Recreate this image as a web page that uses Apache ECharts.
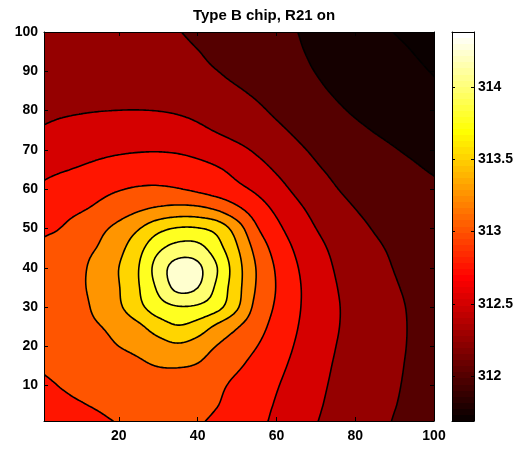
<!DOCTYPE html>
<html>
<head>
<meta charset="utf-8">
<script src="https://cdn.jsdelivr.net/npm/echarts@6/dist/echarts.min.js"></script>
<style>
  html, body { margin: 0; padding: 0; background: #fff; }
  #chart { width: 524px; height: 450px; }
</style>
</head>
<body>
<div id="chart"></div>
<script>
// Sample positions of the temperature field (chip surface coordinates)
const xNodes = [1, 5, 10, 15, 20, 25, 30, 35, 40, 45, 50, 55, 60, 65, 70, 75, 80, 85, 90, 95, 100];
const yNodes = [1, 5, 10, 15, 20, 25, 30, 35, 40, 45, 50, 55, 60, 65, 70, 75, 80, 85, 90, 95, 100];

// Temperature (K) at each sample, one row per y position (bottom to top)
const tempRows = [
  [312.88, 312.91, 312.94, 312.975, 313.01, 313.04, 313.05, 313.045, 313.02, 312.96, 312.87, 312.80, 312.71, 312.61, 312.51, 312.44, 312.375, 312.31, 312.24, 312.19, 312.16],
  [312.92, 312.95, 312.985, 313.02, 313.05, 313.075, 313.085, 313.08, 313.06, 313.005, 312.914, 312.824, 312.7325, 312.6315, 312.5305, 312.453, 312.389, 312.3215, 312.256, 312.205, 312.17],
  [312.97, 313.005, 313.05, 313.09, 313.12, 313.14, 313.145, 313.13, 313.10, 313.04, 312.952, 312.864, 312.765, 312.659, 312.5535, 312.4675, 312.401, 312.335, 312.2695, 312.2125, 312.18],
  [313.02, 313.05, 313.08, 313.12, 313.165, 313.21, 313.255, 313.265, 313.23, 313.12, 313.03, 312.9265, 312.8115, 312.695, 312.582, 312.483, 312.415, 312.348, 312.2805, 312.22, 312.19],
  [313.05, 313.09, 313.14, 313.19, 313.25, 313.31, 313.40, 313.46, 313.39, 313.238, 313.12, 313.0035, 312.8655, 312.732, 312.614, 312.502, 312.429, 312.359, 312.289, 312.2275, 312.1975],
  [313.08, 313.125, 313.17, 313.24, 313.325, 313.45, 313.62, 313.73, 313.64, 313.446, 313.27, 313.0895, 312.921, 312.764, 312.639, 312.519, 312.438, 312.365, 312.291, 312.23, 312.1975],
  [313.10, 313.13, 313.18, 313.321, 313.463, 313.68, 313.89, 313.984, 313.962, 313.824, 313.533, 313.172, 312.969, 312.786, 312.650, 312.523, 312.438, 312.361, 312.2835, 312.2275, 312.1925],
  [313.13, 313.17, 313.215, 313.34, 313.49, 313.735, 314.044, 314.32, 314.255, 313.943, 313.586, 313.229, 312.992, 312.7915, 312.6435, 312.510, 312.4255, 312.345, 312.265, 312.2175, 312.185],
  [313.12, 313.165, 313.21, 313.336, 313.50, 313.745, 314.11, 314.35, 314.30, 314.00, 313.598, 313.235, 312.974, 312.7695, 312.617, 312.486, 312.402, 312.318, 312.243, 312.20, 312.17],
  [313.05, 313.10, 313.18, 313.267, 313.43, 313.667, 313.944, 314.09, 314.08, 313.844, 313.52, 313.163, 312.9085, 312.717, 312.5675, 312.453, 312.366, 312.2825, 312.22, 312.1775, 312.1475],
  [312.96, 313.00, 313.099, 313.195, 313.319, 313.484, 313.673, 313.77, 313.765, 313.659, 313.375, 313.023, 312.809, 312.641, 312.501, 312.402, 312.3125, 312.236, 312.186, 312.1475, 312.1175],
  [312.88, 312.9225, 312.974, 313.0435, 313.129, 313.215, 313.285, 313.3225, 313.3075, 313.215, 313.049, 312.868, 312.703, 312.555, 312.4315, 312.331, 312.25, 312.1875, 312.1425, 312.109, 312.08],
  [312.79, 312.84, 312.89, 312.94, 312.9875, 313.024, 313.035, 313.011, 312.9575, 312.8875, 312.808, 312.7085, 312.584, 312.457, 312.348, 312.2605, 312.1936, 312.1414, 312.099, 312.064, 312.034],
  [312.70, 312.731, 312.7675, 312.809, 312.8475, 312.875, 312.8825, 312.865, 312.8275, 312.771, 312.6885, 312.586, 312.476, 312.369, 312.277, 312.208, 312.154, 312.1045, 312.059, 312.0196, 311.9835],
  [312.61, 312.64, 312.67, 312.6975, 312.719, 312.7325, 312.736, 312.7225, 312.685, 312.6275, 312.5546, 312.4685, 312.3776, 312.291, 312.216, 312.1555, 312.102, 312.052, 312.008, 311.971, 311.937],
  [312.517, 312.5405, 312.564, 312.584, 312.5975, 312.6025, 312.596, 312.576, 312.539, 312.4835, 312.421, 312.359, 312.29, 312.218, 312.152, 312.091, 312.036, 311.991, 311.954, 311.921, 311.89],
  [312.47, 312.48, 312.489, 312.4965, 312.5015, 312.503, 312.4975, 312.481, 312.451, 312.409, 312.354, 312.287, 312.217, 312.151, 312.0875, 312.029, 311.98, 311.941, 311.906, 311.872, 311.8375],
  [312.45, 312.45, 312.449, 312.444, 312.435, 312.424, 312.4075, 312.3825, 312.349, 312.311, 312.269, 312.215, 312.153, 312.0915, 312.033, 311.9824, 311.939, 311.8995, 311.861, 311.823, 311.784],
  [312.43, 312.42, 312.4075, 312.39, 312.37, 312.35, 312.33, 312.309, 312.285, 312.252, 312.206, 312.155, 312.102, 312.047, 311.996, 311.950, 311.907, 311.864, 311.821, 311.780, 311.74],
  [312.42, 312.404, 312.385, 312.365, 312.345, 312.325, 312.305, 312.284, 312.254, 312.212, 312.164, 312.117, 312.069, 312.0205, 311.972, 311.925, 311.879, 311.832, 311.786, 311.7455, 311.711],
  [312.40, 312.385, 312.365, 312.345, 312.325, 312.30, 312.28, 312.256, 312.218, 312.176, 312.133, 312.09, 312.047, 312.004, 311.953, 311.901, 311.85, 311.798, 311.746, 311.715, 311.69]
];

// Contour levels and colour scale limits
const levels = [311.75, 312, 312.25, 312.5, 312.75, 313, 313.25, 313.5, 313.75, 314, 314.25];
const colorRange = [311.69, 314.38];

// Tick labels
const xTicks = [20, 40, 60, 80, 100];
const yTicks = [10, 20, 30, 40, 50, 60, 70, 80, 90, 100];
const barTicks = [312, 312.5, 313, 313.5, 314];

const titleText = 'Type B chip, R21 on';

// ---- "hot" colormap, 64 entries ----
const CMAP_SIZE = 64;
function hotEntry(k) { // k: 1..64
  const n1 = 24, n2 = 24, n3 = 16;
  const r = k <= n1 ? k / n1 : 1;
  const g = k <= n1 ? 0 : (k <= n1 + n2 ? (k - n1) / n2 : 1);
  const b = k <= n1 + n2 ? 0 : (k - n1 - n2) / n3;
  const h = c => Math.round(c * 255);
  return 'rgb(' + h(r) + ',' + h(g) + ',' + h(b) + ')';
}
function hotColor(v) {
  let idx = Math.floor((v - colorRange[0]) / (colorRange[1] - colorRange[0]) * CMAP_SIZE + 1e-9);
  idx = Math.max(0, Math.min(CMAP_SIZE - 1, idx));
  return hotEntry(idx + 1);
}
const bandColors = [];
for (let k = 0; k <= levels.length; k++) {
  bandColors.push(hotColor(k === 0 ? colorRange[0] : levels[k - 1]));
}
function bandOf(v) {
  let k = 0;
  while (k < levels.length && v >= levels[k]) k++;
  return k;
}

// ---- smooth resampling of the sampled field (Catmull-Rom) ----
const SUB = 6;
function catmull(p0, p1, p2, p3, t) {
  const t2 = t * t, t3 = t2 * t;
  return 0.5 * (2 * p1 + (-p0 + p2) * t + (2 * p0 - 5 * p1 + 4 * p2 - p3) * t2 + (-p0 + 3 * p1 - 3 * p2 + p3) * t3);
}
function resample(arr) {
  const m = arr.length;
  const g = k => k < 0 ? 2 * arr[0] - arr[1] : (k > m - 1 ? 2 * arr[m - 1] - arr[m - 2] : arr[k]);
  const out = [];
  for (let i = 0; i < m - 1; i++) {
    for (let s = 0; s < SUB; s++) out.push(catmull(g(i - 1), g(i), g(i + 1), g(i + 2), s / SUB));
  }
  out.push(arr[m - 1]);
  return out;
}
function resampleCoords(nodes) {
  const out = [];
  for (let i = 0; i < nodes.length - 1; i++) {
    for (let s = 0; s < SUB; s++) out.push(nodes[i] + (nodes[i + 1] - nodes[i]) * s / SUB);
  }
  out.push(nodes[nodes.length - 1]);
  return out;
}
const fineX = resampleCoords(xNodes);
const fineY = resampleCoords(yNodes);
const rowsAlongX = tempRows.map(resample);
const fineField = []; // fineField[j][i]
for (let j = 0; j < fineY.length; j++) fineField.push(new Array(fineX.length));
for (let i = 0; i < fineX.length; i++) {
  const col = resample(rowsAlongX.map(r => r[i]));
  for (let j = 0; j < fineY.length; j++) fineField[j][i] = col[j];
}

// ---- polygon clipping against a level ----
function clipPoly(poly, t, keepAbove) {
  const out = [];
  const n = poly.length;
  for (let i = 0; i < n; i++) {
    const A = poly[i], B = poly[(i + 1) % n];
    const ina = keepAbove ? A.v >= t : A.v < t;
    const inb = keepAbove ? B.v >= t : B.v < t;
    if (ina) out.push(A);
    if (ina !== inb) {
      const r = (t - A.v) / (B.v - A.v);
      out.push({ x: A.x + (B.x - A.x) * r, y: A.y + (B.y - A.y) * r, v: t });
    }
  }
  return out;
}
const f2 = n => n.toFixed(2);
function polyPath(poly) {
  let s = 'M' + f2(poly[0].x) + ' ' + f2(poly[0].y);
  for (let i = 1; i < poly.length; i++) s += 'L' + f2(poly[i].x) + ' ' + f2(poly[i].y);
  return s + 'Z';
}

function buildContour(api) {
  const px = fineX.map(x => api.coord([x, yNodes[0]])[0]);
  const py = fineY.map(y => api.coord([xNodes[0], y])[1]);
  const fills = bandColors.map(() => []);
  const lines = [];
  const NX = fineX.length, NY = fineY.length;

  function doTriangle(tri) {
    let vmin = Infinity, vmax = -Infinity;
    tri.forEach(p => { vmin = Math.min(vmin, p.v); vmax = Math.max(vmax, p.v); });
    const k0 = bandOf(vmin), k1 = bandOf(vmax);
    for (let k = k0; k <= k1; k++) {
      let poly = tri;
      if (k > 0) poly = clipPoly(poly, levels[k - 1], true);
      if (poly.length >= 3 && k < levels.length) poly = clipPoly(poly, levels[k], false);
      if (poly.length >= 3) fills[k].push(polyPath(poly));
    }
    // iso-lines through this triangle
    for (let k = k0; k < k1; k++) {
      const L = levels[k];
      const pts = [];
      for (let e = 0; e < 3; e++) {
        const A = tri[e], B = tri[(e + 1) % 3];
        if ((A.v >= L) !== (B.v >= L)) {
          const r = (L - A.v) / (B.v - A.v);
          pts.push([A.x + (B.x - A.x) * r, A.y + (B.y - A.y) * r]);
        }
      }
      if (pts.length === 2) {
        lines.push('M' + f2(pts[0][0]) + ' ' + f2(pts[0][1]) + 'L' + f2(pts[1][0]) + ' ' + f2(pts[1][1]));
      }
    }
  }

  for (let j = 0; j < NY - 1; j++) {
    let runBand = -1, runStart = 0;
    const flush = (iEnd) => {
      if (runBand >= 0) {
        const x0 = px[runStart], x1 = px[iEnd], y0 = py[j], y1 = py[j + 1];
        fills[runBand].push('M' + f2(x0) + ' ' + f2(y0) + 'L' + f2(x1) + ' ' + f2(y0) +
          'L' + f2(x1) + ' ' + f2(y1) + 'L' + f2(x0) + ' ' + f2(y1) + 'Z');
      }
    };
    for (let i = 0; i < NX - 1; i++) {
      const a = { x: px[i], y: py[j], v: fineField[j][i] };
      const b = { x: px[i + 1], y: py[j], v: fineField[j][i + 1] };
      const c = { x: px[i + 1], y: py[j + 1], v: fineField[j + 1][i + 1] };
      const d = { x: px[i], y: py[j + 1], v: fineField[j + 1][i] };
      const ka = bandOf(a.v);
      const uniform = ka === bandOf(b.v) && ka === bandOf(c.v) && ka === bandOf(d.v);
      const k = uniform ? ka : -1;
      if (k !== runBand) {
        flush(i);
        runBand = k;
        runStart = i;
      }
      if (!uniform) {
        doTriangle([a, b, c]);
        doTriangle([a, c, d]);
      }
    }
    flush(NX - 1);
  }

  const children = [];
  fills.forEach((parts, k) => {
    if (!parts.length) return;
    children.push({
      type: 'path',
      shape: { pathData: parts.join('') },
      style: { fill: bandColors[k], stroke: null },
      silent: true
    });
  });
  children.push({
    type: 'path',
    shape: { pathData: lines.join('') },
    style: { fill: null, stroke: '#000', lineWidth: 1.6, lineJoin: 'round', lineCap: 'round' },
    silent: true
  });
  return { type: 'group', children: children };
}

// Colour bar steps: one entry per colormap slot
const barSteps = [];
for (let i = 0; i < CMAP_SIZE; i++) {
  const span = (colorRange[1] - colorRange[0]) / CMAP_SIZE;
  barSteps.push([0, colorRange[0] + i * span, colorRange[0] + (i + 1) * span, i]);
}

const fontFamily = '"Liberation Sans", Arial, Helvetica, sans-serif';
const labelStyle = { color: '#000', fontSize: 14, fontFamily: fontFamily, fontWeight: 'bold' };
const axisLineStyle = { show: true, onZero: false, lineStyle: { color: '#000', width: 1 } };

const chart = echarts.init(document.getElementById('chart'), null, { renderer: 'canvas' });
chart.setOption({
  animation: false,
  backgroundColor: '#fff',
  title: {
    text: titleText,
    left: 259,
    top: 3,
    textAlign: 'center',
    textStyle: { color: '#000', fontSize: 15, fontWeight: 'bold', fontFamily: fontFamily }
  },
  grid: [
    { left: 44, top: 32, width: 390, height: 389 },
    { left: 452, top: 32, width: 22, height: 389 }
  ],
  xAxis: [
    {
      gridIndex: 0, type: 'value', min: 1, max: 100, position: 'bottom', z: 10,
      axisLine: axisLineStyle,
      axisTick: { show: true, inside: true, length: 4, customValues: xTicks, lineStyle: { color: '#000' } },
      axisLabel: Object.assign({ customValues: xTicks, margin: 8 }, labelStyle),
      splitLine: { show: false }
    },
    {
      gridIndex: 0, type: 'value', min: 1, max: 100, position: 'top', z: 10,
      axisLine: axisLineStyle,
      axisTick: { show: true, inside: true, length: 4, customValues: xTicks, lineStyle: { color: '#000' } },
      axisLabel: { show: false },
      splitLine: { show: false }
    },
    {
      gridIndex: 1, type: 'value', min: 0, max: 1, position: 'bottom', z: 10,
      axisLine: axisLineStyle, axisTick: { show: false }, axisLabel: { show: false }, splitLine: { show: false }
    },
    {
      gridIndex: 1, type: 'value', min: 0, max: 1, position: 'top', z: 10,
      axisLine: axisLineStyle, axisTick: { show: false }, axisLabel: { show: false }, splitLine: { show: false }
    }
  ],
  yAxis: [
    {
      gridIndex: 0, type: 'value', min: 1, max: 100, position: 'left', z: 10,
      axisLine: axisLineStyle,
      axisTick: { show: true, inside: true, length: 4, customValues: yTicks, lineStyle: { color: '#000' } },
      axisLabel: Object.assign({ customValues: yTicks, margin: 6 }, labelStyle),
      splitLine: { show: false }
    },
    {
      gridIndex: 0, type: 'value', min: 1, max: 100, position: 'right', z: 10,
      axisLine: axisLineStyle,
      axisTick: { show: true, inside: true, length: 4, customValues: yTicks, lineStyle: { color: '#000' } },
      axisLabel: { show: false },
      splitLine: { show: false }
    },
    {
      gridIndex: 1, type: 'value', min: colorRange[0], max: colorRange[1], position: 'right', z: 10,
      axisLine: axisLineStyle,
      axisTick: { show: true, inside: true, length: 3, customValues: barTicks, lineStyle: { color: '#000' } },
      axisLabel: Object.assign({ customValues: barTicks, margin: 4 }, labelStyle),
      splitLine: { show: false }
    },
    {
      gridIndex: 1, type: 'value', min: colorRange[0], max: colorRange[1], position: 'left', z: 10,
      axisLine: axisLineStyle,
      axisTick: { show: true, inside: true, length: 3, customValues: barTicks, lineStyle: { color: '#000' } },
      axisLabel: { show: false },
      splitLine: { show: false }
    }
  ],
  series: [
    {
      type: 'custom',
      xAxisIndex: 0,
      yAxisIndex: 0,
      silent: true,
      clip: true,
      data: [[xNodes[0], yNodes[0]]],
      renderItem: function (params, api) {
        return buildContour(api);
      }
    },
    {
      type: 'custom',
      xAxisIndex: 2,
      yAxisIndex: 2,
      silent: true,
      data: barSteps,
      renderItem: function (params, api) {
        const p0 = api.coord([0, api.value(1)]);
        const p1 = api.coord([1, api.value(2)]);
        const top = Math.round(p1[1]);
        const bottom = Math.round(p0[1]);
        return {
          type: 'rect',
          shape: { x: p0[0], y: top, width: p1[0] - p0[0], height: bottom - top },
          style: { fill: hotEntry(api.value(3) + 1) }
        };
      }
    }
  ]
});
</script>
</body>
</html>
